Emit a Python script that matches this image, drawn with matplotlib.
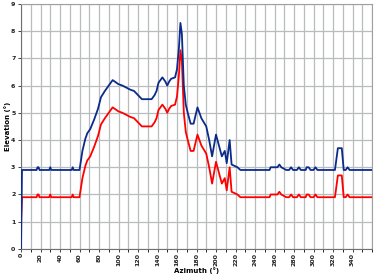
import matplotlib.pyplot as plt

# azimuth (deg) and elevation (deg)
azimuth = [0, 1, 16, 17, 18, 19, 29, 30, 31, 52, 53, 54, 60, 63, 66, 68, 71, 75, 79, 82,
           86, 90, 94, 100, 104, 112, 116, 120, 124, 134, 137, 139, 141, 145, 148, 150,
           152, 154, 158, 160, 162, 163.5, 165, 167, 169, 171, 174, 177, 181, 185, 190,
           193, 196, 198, 200, 203, 206, 209, 211, 214, 216, 219, 222, 225, 255, 256,
           263, 265, 267, 272, 275, 277, 279, 283, 285, 287, 292, 293, 295, 297, 300,
           302, 304, 322, 325, 329, 331, 333, 335, 337, 360]

elev_upper = [0, 2.9, 2.9, 3.0, 3.0, 2.9, 2.9, 3.0, 2.9, 2.9, 3.0, 2.9, 2.9, 3.6, 4.05, 4.25,
              4.4, 4.75, 5.15, 5.57, 5.8, 6.0, 6.2, 6.05, 6.0, 5.85, 5.8, 5.65, 5.5, 5.5,
              5.65, 5.8, 6.1, 6.3, 6.15, 6.0, 6.15, 6.25, 6.3, 6.6, 7.4, 8.3, 7.9, 6.0,
              5.3, 5.0, 4.6, 4.6, 5.2, 4.8, 4.5, 4.0, 3.4, 3.8, 4.2, 3.8, 3.4, 3.6, 3.15,
              4.0, 3.1, 3.05, 3.0, 2.9, 2.9, 3.0, 3.0, 3.1, 3.0, 2.9, 2.9, 3.0, 2.9, 2.9,
              3.0, 2.9, 2.9, 3.0, 3.0, 2.9, 2.9, 3.0, 2.9, 2.9, 3.7, 3.7, 2.9, 2.9, 3.0,
              2.9, 2.9]

elev_lower = [1.0, 1.9, 1.9, 2.0, 2.0, 1.9, 1.9, 2.0, 1.9, 1.9, 2.0, 1.9, 1.9, 2.6, 3.05, 3.25,
              3.4, 3.75, 4.15, 4.57, 4.8, 5.0, 5.2, 5.05, 5.0, 4.85, 4.8, 4.65, 4.5, 4.5,
              4.65, 4.8, 5.1, 5.3, 5.15, 5.0, 5.15, 5.25, 5.3, 5.6, 6.4, 7.3, 6.9, 5.0,
              4.3, 4.0, 3.6, 3.6, 4.2, 3.8, 3.5, 3.0, 2.4, 2.8, 3.2, 2.8, 2.4, 2.6, 2.15,
              3.0, 2.1, 2.05, 2.0, 1.9, 1.9, 2.0, 2.0, 2.1, 2.0, 1.9, 1.9, 2.0, 1.9, 1.9,
              2.0, 1.9, 1.9, 2.0, 2.0, 1.9, 1.9, 2.0, 1.9, 1.9, 2.7, 2.7, 1.9, 1.9, 2.0,
              1.9, 1.9]

x_ticks = list(range(0, 360, 20))
y_ticks = list(range(0, 10))

fig = plt.figure(figsize=(3.75, 2.76), dpi=100)
ax = fig.add_axes([0.056, 0.098, 0.936, 0.888])

ax.plot(azimuth, elev_lower, color='#ff0000', lw=1.3, zorder=3)
ax.plot(azimuth, elev_upper, color='#0a2a8c', lw=1.3, zorder=4)

ax.set_xlim(0, 360)
ax.set_ylim(0, 9)
ax.set_xticks(x_ticks)
ax.set_xticks(range(0, 361, 10), minor=True)
ax.set_yticks(y_ticks)
ax.grid(True, which='both', axis='x', color='#b8bcbc', lw=0.9)
ax.grid(True, which='major', axis='y', color='#b8bcbc', lw=0.9)
ax.set_axisbelow(True)

ax.tick_params(axis='x', labelsize=4.5, rotation=90, length=2, pad=1, width=0.6, colors='#222222')
ax.tick_params(axis='x', which='minor', length=2, width=0.6)
ax.tick_params(axis='y', labelsize=4.5, length=2, pad=2, width=0.6, colors='#222222')
for lab in ax.get_xticklabels() + ax.get_yticklabels():
    lab.set_fontweight('bold')

for side in ['top', 'right']:
    ax.spines[side].set_color('#a0a0a0')
ax.spines['left'].set_color('#707070')
ax.spines['bottom'].set_color('#707070')

ax.set_xlabel('Azimuth (°)', fontsize=5, fontweight='bold')
ax.set_ylabel('Elevation (°)', fontsize=5, fontweight='bold')
ax.xaxis.set_label_coords(0.5, -0.073)
ax.yaxis.set_label_coords(-0.029, 0.5)

fig.savefig('out.png', dpi=100)
